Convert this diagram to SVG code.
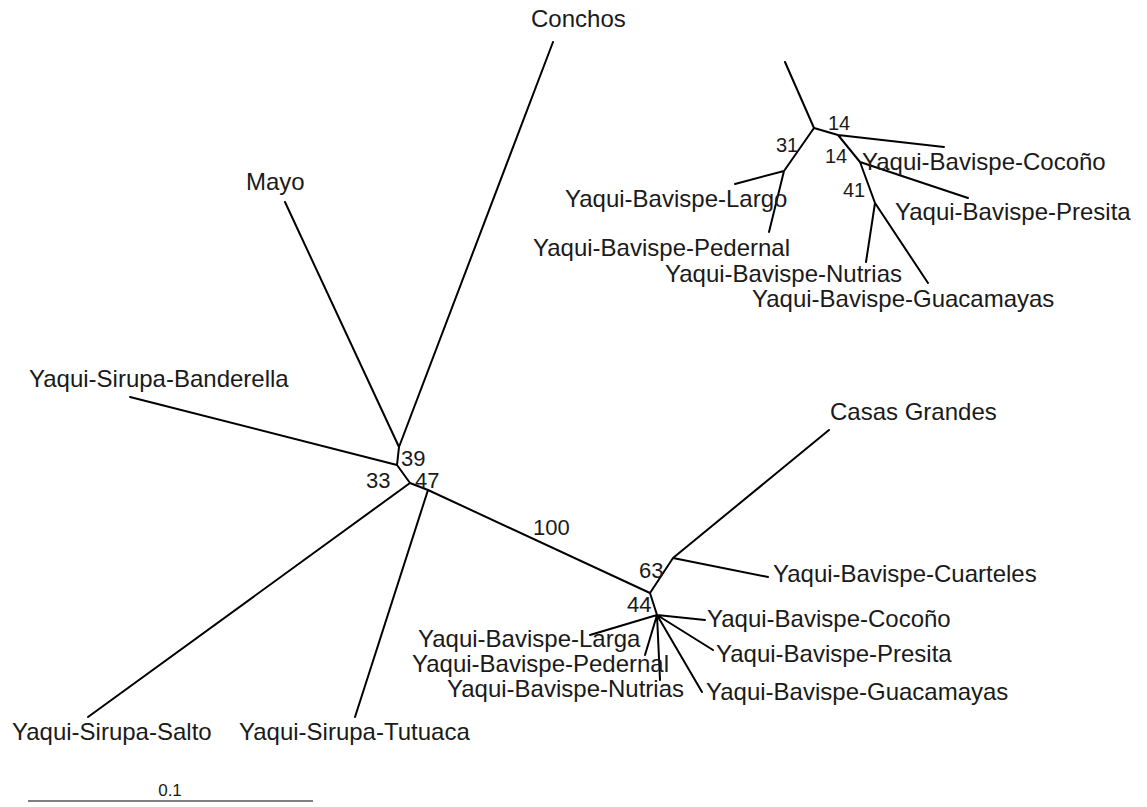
<svg xmlns="http://www.w3.org/2000/svg" width="1147" height="807" viewBox="0 0 1147 807">
<style>
.e{stroke:#000;stroke-width:2;fill:none;stroke-linecap:round;stroke-linejoin:round}
.l{font-family:"Liberation Sans",Arial,sans-serif;font-size:24px;fill:#1a1a1a}
.b{font-family:"Liberation Sans",Arial,sans-serif;font-size:22px;fill:#1a1a1a}
.s{font-family:"Liberation Sans",Arial,sans-serif;font-size:20px;fill:#1a1a1a}
</style>
<rect width="1147" height="807" fill="#fff"/>
<g id="connectors">
<path class="e" d="M553,42 L399,447 M285,202 L399,447 M399,447 L397,465 M130,397 L397,465 M397,465 L410,483 M410,483 L88,717 M410,483 L428,490 M428,490 L355,717 M428,490 L650,593"/>
<path class="e" d="M650,593 L673,558 M673,558 L829,430 M673,558 L768,577 M650,593 L657,615 M657,615 L705,620 M657,615 L713,650 M657,615 L702,692 M657,615 L660,680 M657,615 L645,655 M657,615 L590,635"/>
<path class="e" d="M785,62 L814,128 M814,128 L838,135 L944,147 M838,135 L860,162 L968,198 M860,162 L875,203 L866,262 M875,203 L928,283 M814,128 L784,171 L735,184 M784,171 L769,232"/>
<line x1="28" y1="801" x2="313" y2="801" stroke="#555" stroke-width="1.5"/>
</g>
<g id="n-conchos"><text class="l" x="531" y="27">Conchos</text></g>
<g id="n-mayo"><text class="l" x="246" y="190">Mayo</text></g>
<g id="n-banderella"><text class="l" x="29" y="387">Yaqui-Sirupa-Banderella</text></g>
<g id="n-salto"><text class="l" x="12" y="740">Yaqui-Sirupa-Salto</text></g>
<g id="n-tutuaca"><text class="l" x="239" y="740">Yaqui-Sirupa-Tutuaca</text></g>
<g id="n-casas"><text class="l" x="830" y="420">Casas Grandes</text></g>
<g id="n-cuarteles"><text class="l" x="773" y="582">Yaqui-Bavispe-Cuarteles</text></g>
<g id="n-cocono"><text class="l" x="707" y="627">Yaqui-Bavispe-Cocoño</text></g>
<g id="n-presita"><text class="l" x="716" y="662">Yaqui-Bavispe-Presita</text></g>
<g id="n-guacamayas"><text class="l" x="706" y="700">Yaqui-Bavispe-Guacamayas</text></g>
<g id="n-larga"><text class="l" x="418" y="647">Yaqui-Bavispe-Larga</text></g>
<g id="n-pedernal"><text class="l" x="412" y="672">Yaqui-Bavispe-Pedernal</text></g>
<g id="n-nutrias"><text class="l" x="447" y="697">Yaqui-Bavispe-Nutrias</text></g>
<g id="inset-cocono"><text class="l" x="862" y="170">Yaqui-Bavispe-Cocoño</text></g>
<g id="inset-presita"><text class="l" x="895" y="220">Yaqui-Bavispe-Presita</text></g>
<g id="inset-largo"><text class="l" x="565" y="207">Yaqui-Bavispe-Largo</text></g>
<g id="inset-pedernal"><text class="l" x="533" y="256">Yaqui-Bavispe-Pedernal</text></g>
<g id="inset-nutrias"><text class="l" x="665" y="282">Yaqui-Bavispe-Nutrias</text></g>
<g id="inset-guacamayas"><text class="l" x="752" y="307">Yaqui-Bavispe-Guacamayas</text></g>
<g id="support">
<text class="b" x="401" y="466">39</text>
<text class="b" x="366" y="488">33</text>
<text class="b" x="415" y="488">47</text>
<text class="b" x="533" y="535">100</text>
<text class="b" x="639" y="578">63</text>
<text class="b" x="627" y="612">44</text>
<text class="s" x="828" y="130">14</text>
<text class="s" x="825" y="163">14</text>
<text class="s" x="776" y="152">31</text>
<text class="s" x="843" y="197">41</text>
</g>
<g id="scale"><text x="170" y="796" text-anchor="middle" font-family="Liberation Sans,Arial,sans-serif" font-size="17" fill="#1a1a1a">0.1</text></g>
</svg>
